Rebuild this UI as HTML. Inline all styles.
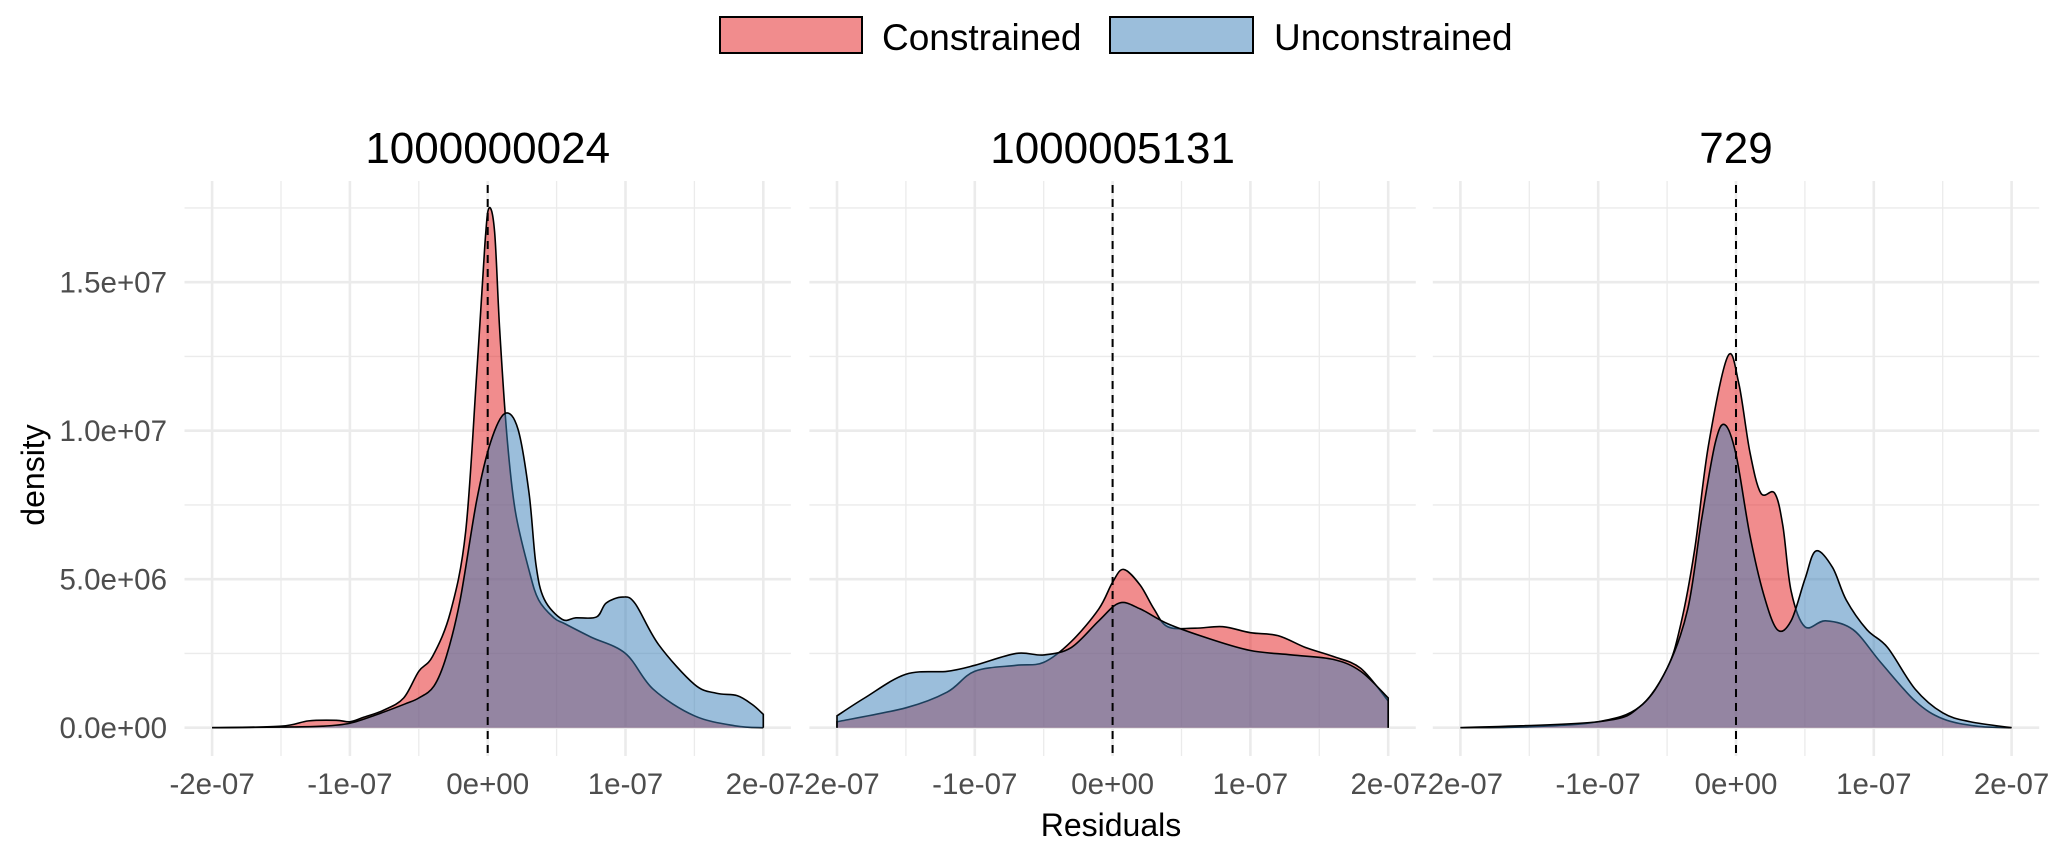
<!DOCTYPE html>
<html><head><meta charset="utf-8"><style>
html,body{margin:0;padding:0;background:#fff;}
svg text{font-family:"Liberation Sans",sans-serif;}
</style></head><body>
<svg id="s" width="2067" height="855" xmlns="http://www.w3.org/2000/svg">
<rect x="720" y="17" width="142" height="36" fill="#f18c8d" stroke="#000" stroke-width="2"/>
<text x="882" y="50" font-size="37" fill="#000">Constrained</text>
<rect x="1110" y="17" width="143" height="36" fill="#9bbedb" stroke="#000" stroke-width="2"/>
<text x="1274" y="50" font-size="37" fill="#000">Unconstrained</text>
<text x="1111" y="836" font-size="32" text-anchor="middle" fill="#000">Residuals</text>
<text transform="translate(44,475) rotate(-90)" font-size="32" text-anchor="middle" fill="#000">density</text>
<g id="g"></g>
</svg>
<script>
var NS="http://www.w3.org/2000/svg",g=document.getElementById('g');
function el(t,a,txt){var e=document.createElementNS(NS,t);for(var k in a)e.setAttribute(k,a[k]);if(txt!==undefined)e.textContent=txt;g.appendChild(e);return e;}
var Y0=727.7,PY=29.7,TOP=181,BOT=756,HX=137.8;
function path(pts,X){var P=pts.map(function(p){return [X+p[0]*HX,Y0-p[1]*PY];});
 var d="M"+P[0][0]+","+Y0+"L"+P[0][0]+","+P[0][1];
 for(var i=0;i<P.length-1;i++){var p0=P[i>0?i-1:i],p1=P[i],p2=P[i+1],p3=P[i+2<P.length?i+2:i+1];
 d+="C"+(p1[0]+(p2[0]-p0[0])/6)+","+(p1[1]+(p2[1]-p0[1])/6)+" "+(p2[0]-(p3[0]-p1[0])/6)+","+(p2[1]-(p3[1]-p1[1])/6)+" "+p2[0]+","+p2[1];}
 return d+"L"+P[P.length-1][0]+","+Y0;}
var panels=[
{z:487.7,t:"1000000024",
r:[[-2,0],[-1.5,0.05],[-1.3,0.23],[-1.1,0.25],[-1,0.2],[-0.9,0.35],[-0.75,0.6],[-0.61,1.0],[-0.5,1.9],[-0.4,2.4],[-0.27,3.9],[-0.16,6.6],[-0.08,11.9],[-0.02,16.3],[0.01,17.5],[0.05,16.7],[0.087,13.4],[0.14,9.8],[0.2,7.3],[0.3,5.3],[0.37,4.3],[0.48,3.7],[0.56,3.5],[0.75,3.05],[1.0,2.5],[1.2,1.3],[1.5,0.4],[1.8,0.06],[2,0]],
b:[[-2,0],[-1.5,0.02],[-1.2,0.05],[-1,0.15],[-0.8,0.45],[-0.6,0.8],[-0.5,1.0],[-0.39,1.4],[-0.3,2.4],[-0.2,4.3],[-0.08,7.65],[0.02,9.6],[0.125,10.58],[0.22,10.05],[0.3,7.9],[0.35,5.5],[0.41,4.33],[0.54,3.65],[0.64,3.7],[0.79,3.73],[0.86,4.2],[0.98,4.4],[1.07,4.18],[1.24,2.8],[1.5,1.46],[1.66,1.16],[1.81,1.08],[1.92,0.78],[2,0.45]]},
{z:1112.6,t:"1000005131",
r:[[-2,0.2],[-1.5,0.67],[-1.2,1.2],[-1,1.9],[-0.7,2.1],[-0.5,2.2],[-0.3,2.9],[-0.1,4.0],[0.0,4.9],[0.08,5.33],[0.2,4.8],[0.3,4.0],[0.4,3.4],[0.6,3.35],[0.8,3.4],[1.0,3.2],[1.2,3.1],[1.4,2.7],[1.6,2.4],[1.8,2.0],[2,0.9]],
b:[[-2,0.4],[-1.8,1.0],[-1.5,1.8],[-1.2,1.9],[-1,2.1],[-0.7,2.5],[-0.5,2.45],[-0.3,2.7],[-0.1,3.6],[0.05,4.2],[0.2,4.0],[0.4,3.5],[0.7,3.0],[1.0,2.6],[1.3,2.45],[1.6,2.3],[1.8,1.9],[2,1.0]]},
{z:1736,t:"729",
r:[[-2,0],[-1.5,0.03],[-1,0.2],[-0.7,0.7],[-0.5,2],[-0.4,3.5],[-0.3,6],[-0.2,9.5],[-0.06,12.5],[0.02,11.6],[0.1,9.3],[0.18,7.9],[0.28,7.9],[0.34,6.8],[0.4,4.6],[0.5,3.4],[0.65,3.6],[0.85,3.3],[1.05,2.2],[1.3,0.9],[1.5,0.3],[1.75,0.05],[2,0]],
b:[[-2,0],[-1,0.2],[-0.7,0.7],[-0.5,2],[-0.35,4],[-0.25,7],[-0.15,9.6],[-0.08,10.2],[0,9.2],[0.1,6.5],[0.2,4.5],[0.3,3.3],[0.4,3.6],[0.5,5.0],[0.58,5.95],[0.7,5.4],[0.8,4.3],[0.95,3.3],[1.1,2.7],[1.3,1.3],[1.5,0.5],[1.7,0.2],[2,0]]}];
panels.forEach(function(p){
 var L=p.z-HX*2-27.6,R=p.z+HX*2+27.6;
 [-1.5,-0.5,0.5,1.5].forEach(function(v){el('line',{x1:p.z+v*HX,x2:p.z+v*HX,y1:TOP,y2:BOT,stroke:'#ebebeb','stroke-width':1.3});});
 [2.5,7.5,12.5,17.5].forEach(function(v){el('line',{x1:L,x2:R,y1:Y0-v*PY,y2:Y0-v*PY,stroke:'#ebebeb','stroke-width':1.3});});
 [-2,-1,0,1,2].forEach(function(v){el('line',{x1:p.z+v*HX,x2:p.z+v*HX,y1:TOP,y2:BOT,stroke:'#ebebeb','stroke-width':2.6});
  el('text',{x:p.z+v*HX,y:794,'font-size':29.5,'text-anchor':'middle',fill:'#4d4d4d'},["-2e-07","-1e-07","0e+00","1e-07","2e-07"][v+2]);});
 [0,5,10,15].forEach(function(v){el('line',{x1:L,x2:R,y1:Y0-v*PY,y2:Y0-v*PY,stroke:'#ebebeb','stroke-width':2.6});});
 el('text',{x:p.z,y:163,'font-size':44,'text-anchor':'middle',fill:'#000'},p.t);
 el('path',{d:path(p.r,p.z),fill:'#E41A1C','fill-opacity':0.5,stroke:'#000','stroke-width':1.6});
 el('path',{d:path(p.b,p.z),fill:'#377EB8','fill-opacity':0.5,stroke:'#000','stroke-width':1.6});
 el('line',{x1:p.z,x2:p.z,y1:TOP+4,y2:BOT,stroke:'#000','stroke-width':2,'stroke-dasharray':'8,6'});
});
["0.0e+00","5.0e+06","1.0e+07","1.5e+07"].forEach(function(t,i){el('text',{x:167,y:Y0-i*5*PY+10.5,'font-size':29.5,'text-anchor':'end',fill:'#4d4d4d'},t);});
</script>
</body></html>
